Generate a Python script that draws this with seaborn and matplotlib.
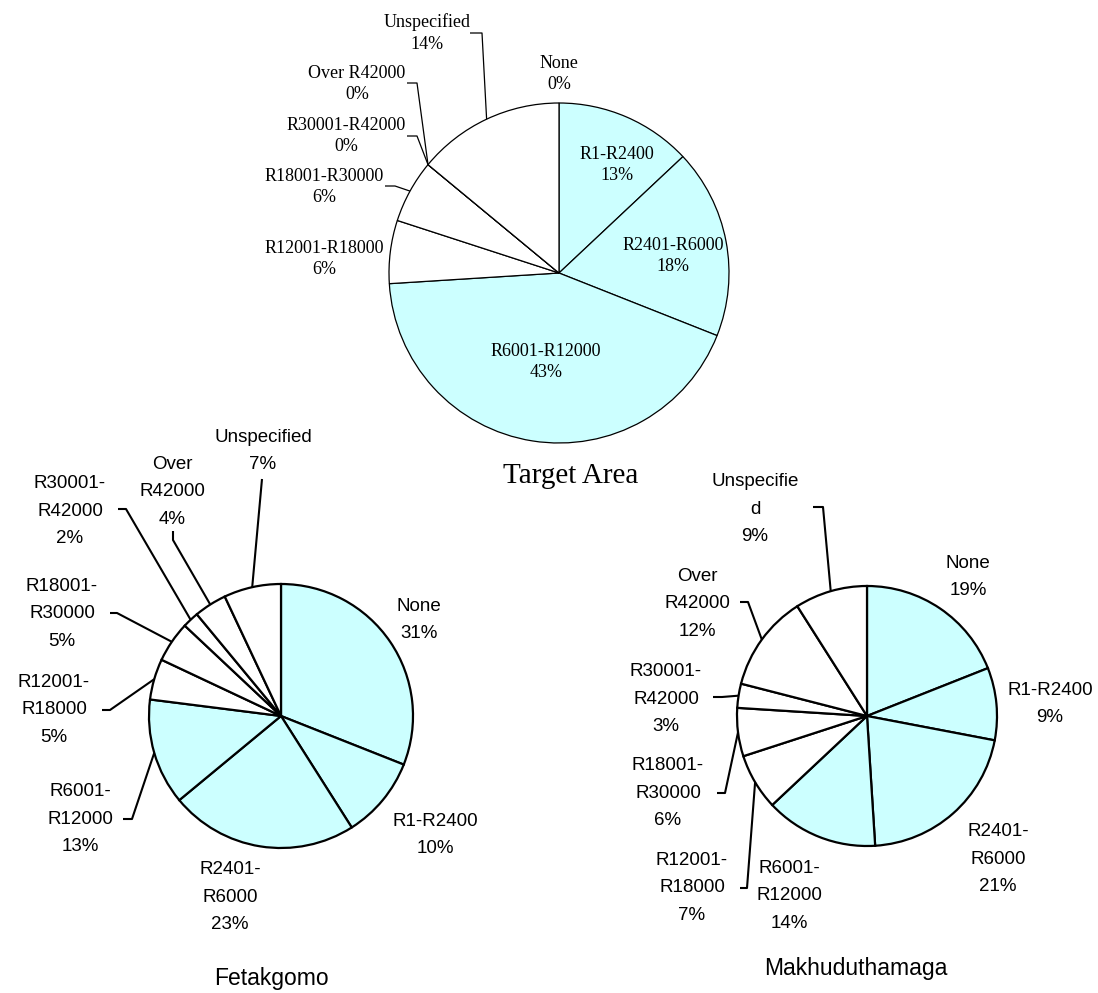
import numpy as np
import matplotlib
matplotlib.use("Agg")
import matplotlib.pyplot as plt
import seaborn as sns

# Household income bands and their shares (%) per area
categories = ["None", "R1-R2400", "R2401-R6000", "R6001-R12000", "R12001-R18000",
              "R18001-R30000", "R30001-R42000", "Over R42000", "Unspecified"]
target_area = [0, 13, 18, 43, 6, 6, 0, 0, 14]
fetakgomo = [31, 10, 23, 13, 5, 5, 2, 4, 7]
makhuduthamaga = [19, 9, 21, 14, 7, 6, 3, 12, 9]

# Wrapped band names used on the two municipal charts
fetakgomo_names = ["None", "R1-R2400", "R2401-\nR6000", "R6001-\nR12000", "R12001-\nR18000",
                   "R18001-\nR30000", "R30001-\nR42000", "Over\nR42000", "Unspecified"]
makhuduthamaga_names = ["None", "R1-R2400", "R2401-\nR6000", "R6001-\nR12000", "R12001-\nR18000",
                        "R18001-\nR30000", "R30001-\nR42000", "Over\nR42000", "Unspecifie\nd"]
chart_titles = ["Target Area", "Fetakgomo", "Makhuduthamaga"]

sns.set_theme(style="white")
plt.rcParams["font.family"] = ["Liberation Sans", "DejaVu Sans"]

W, H = 1098, 993
CYAN = "#CCFFFF"
slice_colors = [CYAN] * 4 + ["white"] * 5

fig = plt.figure(figsize=(W / 100, H / 100), dpi=100)
ax = fig.add_axes([0, 0, 1, 1])


def flip(pt):
    return (pt[0], H - pt[1])


charts = [
    dict(values=target_area, names=categories, center=(559, 273), radius=170,
         family="Liberation Serif", size=13, spacing=1.32, edge=0.9, leader_lw=0.9,
         title_pos=(571, 476), title_size=21,
         label_pos=[(559, 74), (617, 165), (673, 256), (546, 362), (324, 259),
                    (324, 187), (346, 136), (357, 84), (427, 33)],
         leaders=[None, None, None, None, None,
                  [(385, 186), (395, 186)],
                  [(407, 136), (417, 136)],
                  [(407, 83), (417, 83)],
                  [(470, 33), (482, 33)]]),
    dict(values=fetakgomo, names=fetakgomo_names, center=(281, 716), radius=132,
         family="Liberation Sans", size=13.5, spacing=1.8, edge=1.6, leader_lw=1.5,
         title_pos=(271, 979), title_size=16.5,
         label_pos=[(419, 620), (435, 835), (230, 897), (80, 819), (54, 710),
                    (62, 614), (70, 511), (172, 492), (263, 451)],
         leaders=[None, None, None,
                  [(123, 819), (132, 819)],
                  [(102, 710), (110, 710)],
                  [(110, 613), (117, 613)],
                  [(118, 509), (126, 509)],
                  [(173, 531), (173, 540)],
                  [(262, 479)]]),
    dict(values=makhuduthamaga, names=makhuduthamaga_names, center=(867, 716), radius=130,
         family="Liberation Sans", size=13.5, spacing=1.8, edge=1.6, leader_lw=1.5,
         title_pos=(856, 969), title_size=16.5,
         label_pos=[(968, 577), (1050, 704), (998, 859), (789, 896), (692, 888),
                    (668, 793), (666, 699), (697, 604), (755, 509)],
         leaders=[None, None, None, None,
                  [(740, 888), (747, 888)],
                  [(717, 793), (725, 793)],
                  [(713, 697), (722, 697)],
                  [(740, 602), (748, 602)],
                  [(813, 507), (823, 507)]]),
]

for chart, title in zip(charts, chart_titles):
    cx, cy = flip(chart["center"])
    r = chart["radius"]
    wedges, _ = ax.pie(chart["values"], colors=slice_colors, startangle=90,
                       counterclock=False, center=(cx, cy), radius=r,
                       wedgeprops=dict(edgecolor="black", linewidth=chart["edge"]))
    for wedge, name, value, pos, leader in zip(wedges, chart["names"], chart["values"],
                                               chart["label_pos"], chart["leaders"]):
        ax.text(*flip(pos), f"{name}\n{value}%", ha="center", va="center",
                multialignment="center", fontsize=chart["size"],
                family=chart["family"], linespacing=chart["spacing"], color="black")
        if leader is not None:
            mid = np.deg2rad((wedge.theta1 + wedge.theta2) / 2)
            anchor = (cx + r * np.cos(mid), cy + r * np.sin(mid))
            pts = [flip(p) for p in leader] + [anchor]
            ax.plot([p[0] for p in pts], [p[1] for p in pts], color="black",
                    lw=chart["leader_lw"], solid_capstyle="butt", zorder=3)
    ax.text(*flip(chart["title_pos"]), title, ha="center", va="center",
            fontsize=chart["title_size"], family=chart["family"], color="black")

ax.set_xlim(0, W)
ax.set_ylim(0, H)
ax.set_aspect("auto")
ax.axis("off")

fig.savefig("out.png", dpi=100, facecolor="white")
